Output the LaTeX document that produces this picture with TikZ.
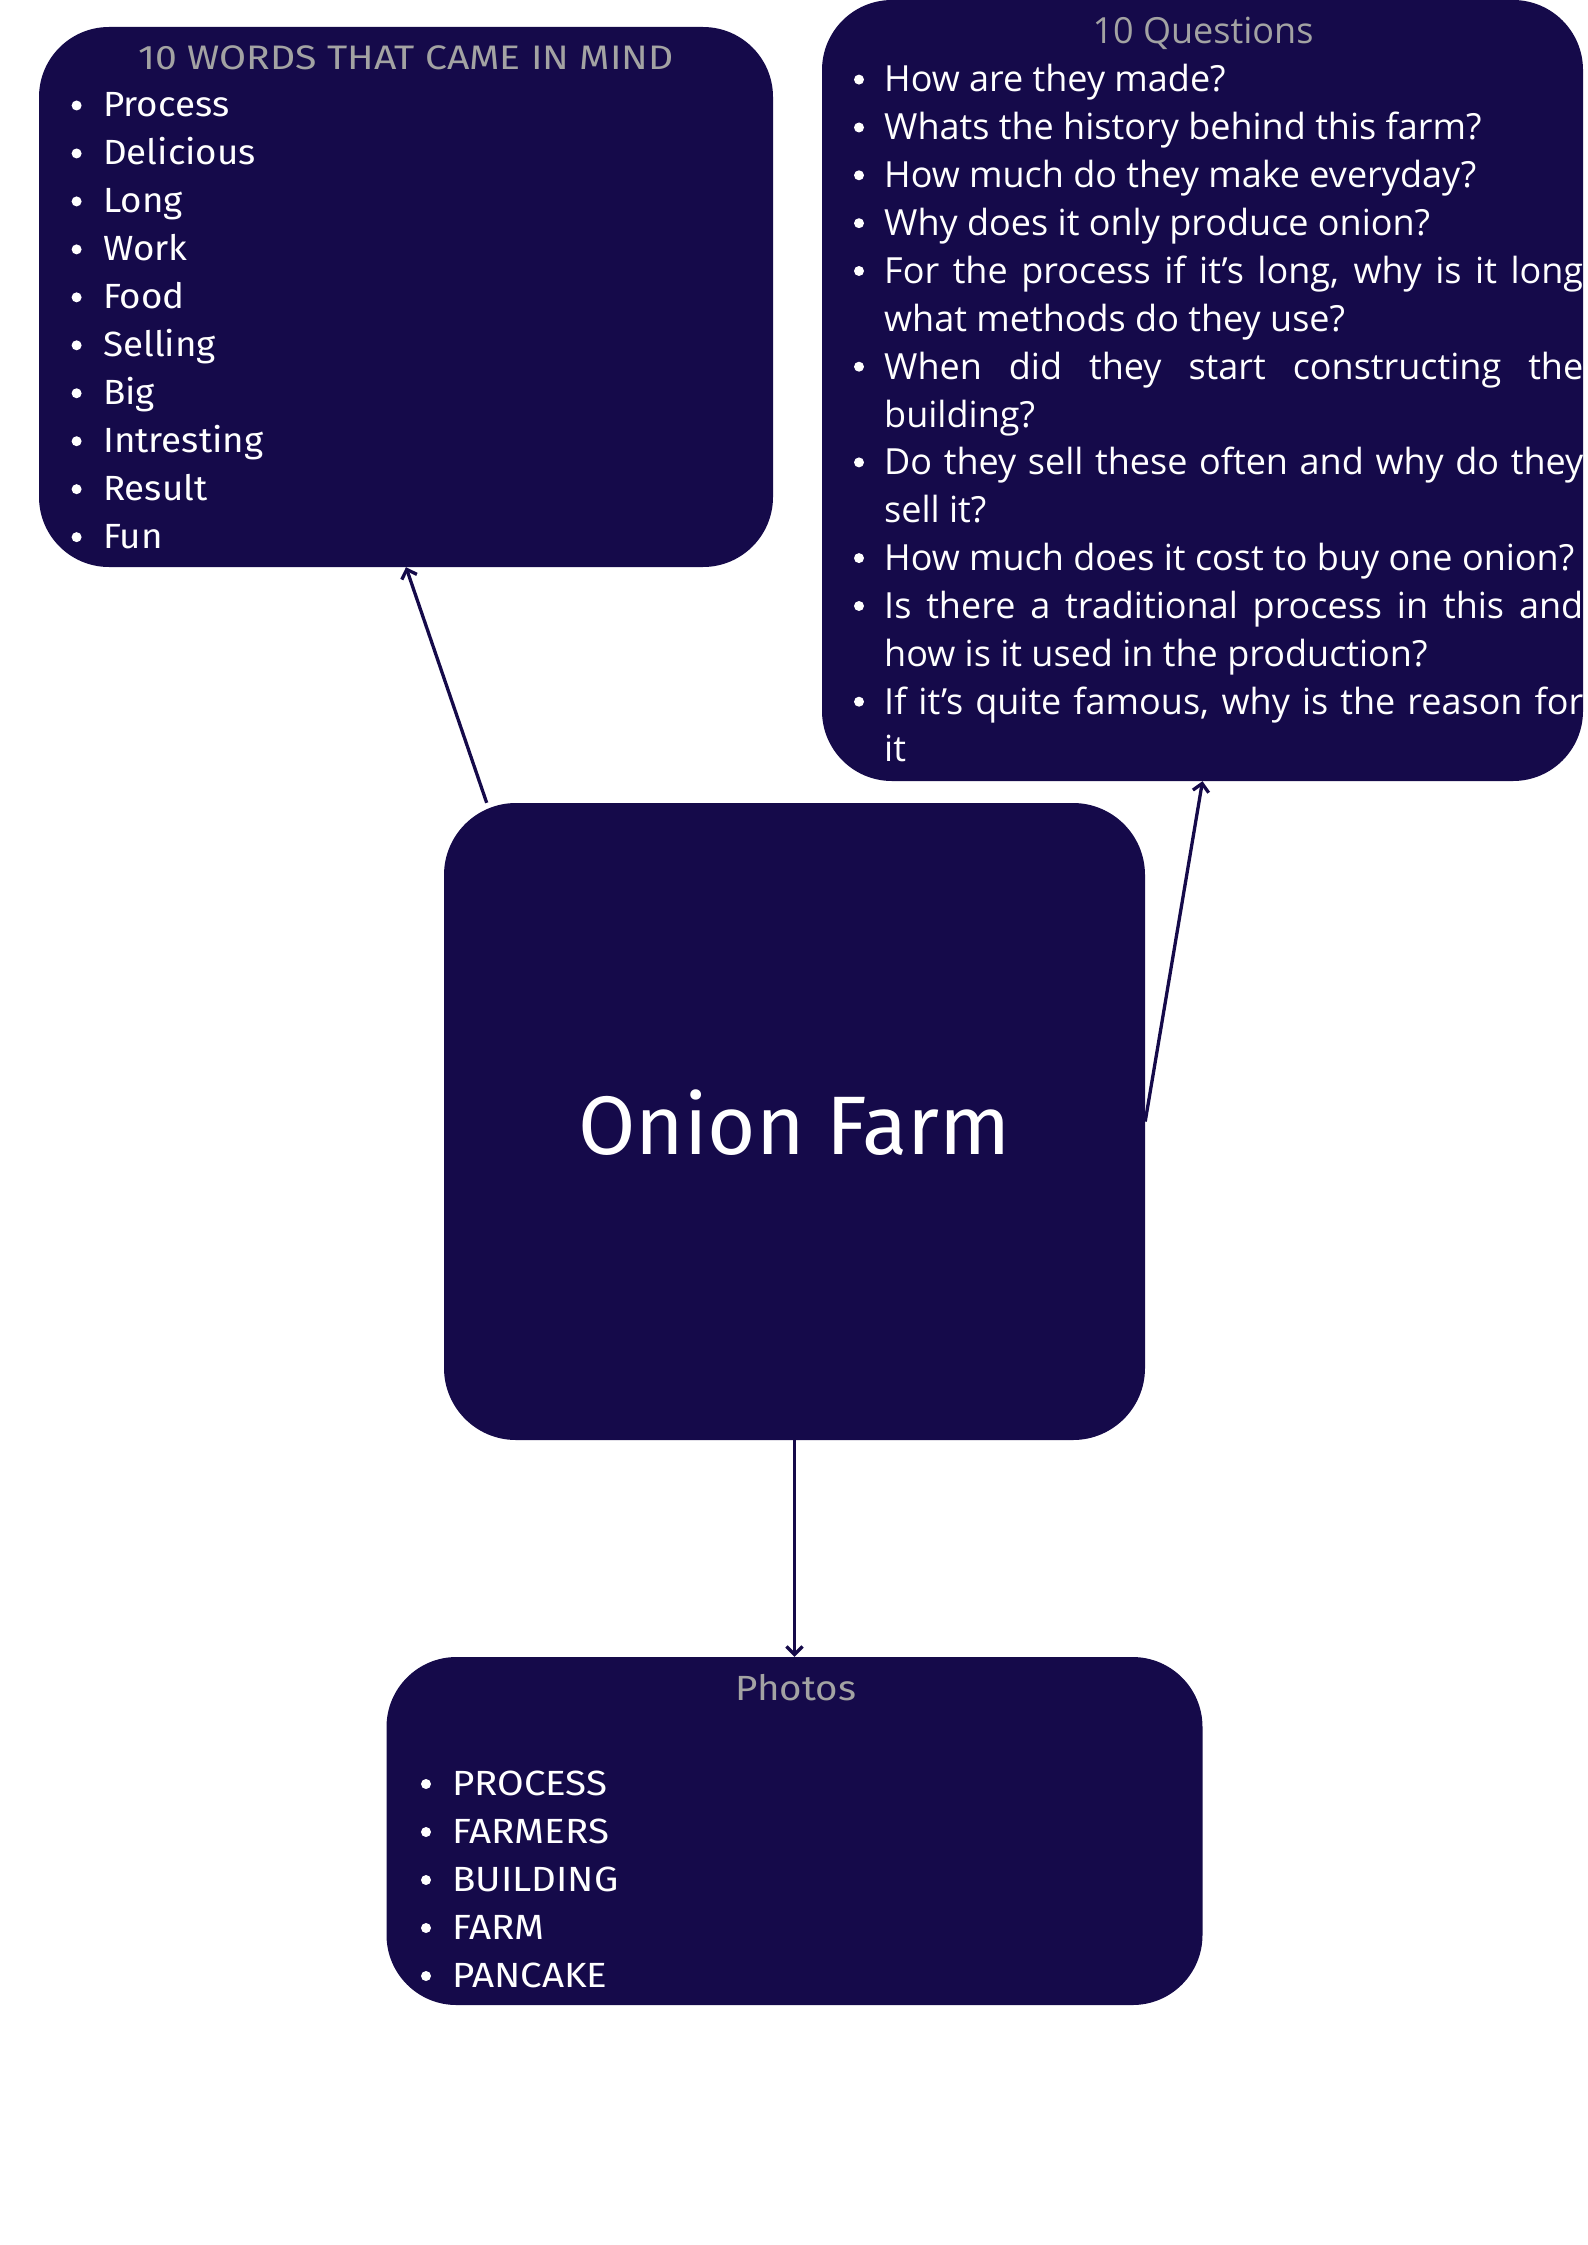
\documentclass[tikz,border=0pt]{standalone}
\usepackage{fontspec}
\usetikzlibrary{arrows.meta}
\setmainfont{Fira Sans}
\newfontfamily\wordfont[FakeStretch=1.05]{Fira Sans}
\newfontfamily\itemfont[FakeStretch=1.1]{Fira Sans}
\newfontfamily\headfont[FakeStretch=1.15]{Fira Sans}
\newfontfamily\qfont{Open Sans}
\definecolor{navy}{HTML}{150A4A}
\definecolor{headgray}{HTML}{A3A3A3}
% a justified (stretched) line of the question list
\newcommand\jl[1]{\makebox[699pt][s]{#1}}
\begin{document}
\begin{tikzpicture}[x=1pt,y=-1pt,
  panel/.style={fill=navy, draw=none, inner sep=0pt, rounded corners=70pt},
  head/.style={inner sep=0pt, anchor=base, text=headgray},
  word/.style={inner sep=0pt, anchor=base west, text=white,
    font=\wordfont\fontsize{35}{48}\selectfont},
  photo/.style={inner sep=0pt, anchor=base west, text=white,
    font=\itemfont\fontsize{35}{48}\selectfont},
  quest/.style={inner sep=0pt, anchor=base west, text=white,
    font=\qfont\fontsize{36}{48}\selectfont},
  dot/.style={fill=white},
  conn/.style={draw=navy, line width=3.3pt, -{Straight Barb[length=8pt,width=16pt]}}]
\useasboundingbox (0,0) rectangle (1587,2245);

% panels
\node[panel, minimum width=734pt, minimum height=540pt] (words) at (406,297) {};
\node[panel, minimum width=761pt, minimum height=781pt] (questions) at (1202.5,390.5) {};
\node[panel, minimum width=701pt, minimum height=637pt, rounded corners=72pt] (hub) at (794.5,1121.5) {};
\node[panel, minimum width=816pt, minimum height=348pt] (photos) at (794.5,1831) {};

% centre label
\node[inner sep=0pt, text=white, font=\fontsize{83}{90}\selectfont] (hubtext) at (794.5,1123) {Onion Farm};

% words panel
\node[head, font=\headfont\fontsize{34}{40}\selectfont] (wordshead) at (406,70) {10 WORDS THAT CAME IN MIND};
\foreach \w [count=\i from 0] in {Process,Delicious,Long,Work,Food,Selling,Big,Intresting,Result,Fun}{
  \node[word] (w\i) at (103,{117+47.96*\i}) {\w};
  \fill[dot] ([xshift=-26.4pt,yshift=11.5pt]w\i.base west) circle (5pt);
}

% questions panel
\node[head, font=\qfont\fontsize{36}{40}\selectfont] (qhead) at (1203,44) {10 Questions};
\node[quest] (q1) at (884,92) {How are they made?};
\node[quest] (q2) at (884,139.9) {Whats the history behind this farm?};
\node[quest] (q3) at (884,187.7) {How much do they make everyday?};
\node[quest] (q4) at (884,235.6) {Why does it only produce onion?};
\node[quest] (q5) at (884,283.4) {\jl{For the process if it’s long, why is it long}};
\node[quest] (q5b) at (884,331.3) {what methods do they use?};
\node[quest] (q6) at (884,379.1) {\jl{When did they start constructing the}};
\node[quest] (q6b) at (884,427) {building?};
\node[quest] (q7) at (884,474.8) {\jl{Do they sell these often and why do they}};
\node[quest] (q7b) at (884,522.7) {sell it?};
\node[quest] (q8) at (884,570.5) {How much does it cost to buy one onion?};
\node[quest] (q9) at (884,618.4) {\jl{Is there a traditional process in this and}};
\node[quest] (q9b) at (884,666.2) {how is it used in the production?};
\node[quest] (q10) at (884,714.1) {\jl{If it’s quite famous, why is the reason for}};
\node[quest] (q10b) at (884,761.9) {it};
\foreach \q in {q1,q2,q3,q4,q5,q6,q7,q8,q9,q10}
  \fill[dot] ([xshift=-25pt,yshift=12.4pt]\q.base west) circle (5pt);

% photos panel
\node[head, font=\itemfont\fontsize{35}{40}\selectfont] (photohead) at (796,1700) {Photos};
\foreach \w [count=\i from 0] in {PROCESS,FARMERS,BUILDING,FARM,PANCAKE}{
  \node[photo] (p\i) at (452,{1795+48*\i}) {\w};
  \fill[dot] ([xshift=-26pt,yshift=11pt]p\i.base west) circle (5pt);
}

% connectors
\draw[conn] (hub.134) -- (words.south);
\draw[conn] (hub.east) -- (questions.south);
\draw[conn] (hub.south) -- (photos.north);
\end{tikzpicture}
\end{document}
